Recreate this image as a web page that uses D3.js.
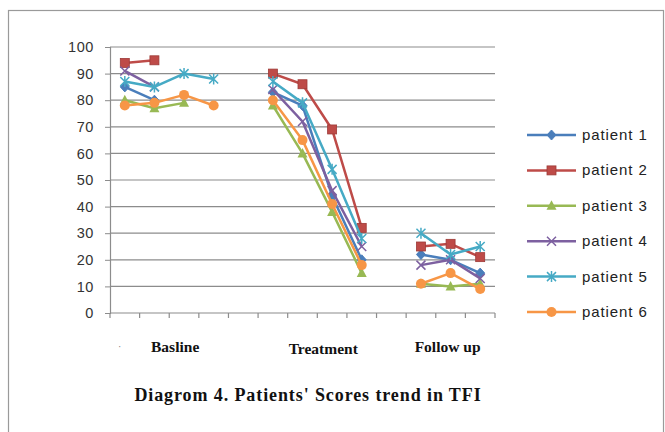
<!DOCTYPE html>
<html><head><meta charset="utf-8">
<script src="https://cdn.jsdelivr.net/npm/d3@7"></script>
<style>body{margin:0;background:#fff}svg{display:block}</style>
</head><body>
<svg id="c" width="665" height="432"></svg>
<script>
const categories = ["b1","b2","b3","b4","gap1","t1","t2","t3","t4","gap2","f1","f2","f3"];
const groupLabels = ["Basline","Treatment","Follow up"];
const groupPos = [1.7, 6.7, 10.9];
const seriesNames = ["patient 1","patient 2","patient 3","patient 4","patient 5","patient 6"];
const patient1 = [85,80,null,null,null,83,78,44,20,null,22,20,15];
const patient2 = [94,95,null,null,null,90,86,69,32,null,25,26,21];
const patient3 = [80,77,79,null,null,78,60,38,15,null,11,10,11];
const patient4 = [91,85,null,null,null,84,72,46,25,null,18,20,13];
const patient5 = [87,85,90,88,null,87,79,54,28,null,30,22,25];
const patient6 = [78,79,82,78,null,80,65,41,18,null,11,15,9];
const yTicks = [0,10,20,30,40,50,60,70,80,90,100];
const title = "Diagrom 4. Patients' Scores trend in TFI";

(function(){
const series = [patient1,patient2,patient3,patient4,patient5,patient6];
const colors = ["#4A7EBB","#BE4B48","#98B954","#7D60A0","#46AAC5","#F79646"];
const shapes = ["diamond","square","triangle","x","star","circle"];

const svg = d3.select("#c");
svg.append("rect").attr("x",8.5).attr("y",10.5).attr("width",655).attr("height",440)
  .attr("fill","#fff").attr("stroke","#9a9a9a").attr("stroke-width",1.2);

const pL=110, pR=495, pT=47, pB=313;
const x = d3.scaleBand().domain(categories).range([pL,pR]).paddingInner(0).paddingOuter(0);
const xi = d3.scaleLinear().domain([-0.5, categories.length-0.5]).range([pL,pR]);
const y = d3.scaleLinear().domain([0,100]).range([pB,pT]);
const cx = i => x(categories[i]) + x.bandwidth()/2;

svg.append("g").selectAll("line").data(yTicks.filter(t=>t>0)).join("line")
  .attr("x1",pL).attr("x2",pR).attr("y1",d=>y(d)).attr("y2",d=>y(d))
  .attr("stroke","#8c8c8c").attr("stroke-width",1.2);

const ya = svg.append("g").attr("transform",`translate(${pL},0)`)
  .call(d3.axisLeft(y).tickValues(yTicks).tickSize(5).tickPadding(11));
ya.select(".domain").attr("stroke","#8c8c8c").attr("stroke-width",1.2);
ya.selectAll(".tick line").attr("stroke","#8c8c8c");
ya.selectAll("text").attr("font-family","Liberation Sans, Arial, sans-serif").attr("font-size",14.5)
  .attr("letter-spacing",0.6).attr("fill","#333");

const xa = svg.append("g").attr("transform",`translate(0,${pB})`);
xa.append("line").attr("x1",pL).attr("x2",pR).attr("stroke","#8c8c8c").attr("stroke-width",1.2);
xa.selectAll("line.t").data(d3.range(categories.length+1)).join("line").attr("class","t")
  .attr("x1",d=>xi(d-0.5)).attr("x2",d=>xi(d-0.5)).attr("y1",0).attr("y2",5)
  .attr("stroke","#8c8c8c").attr("stroke-width",1.2);

svg.append("g").selectAll("text").data(groupLabels).join("text")
  .attr("x",(d,i)=>xi(groupPos[i])).attr("y",(d,i)=>i===1?354:352)
  .attr("text-anchor","middle").attr("font-family","Liberation Serif, Times New Roman, serif")
  .attr("font-weight","bold").attr("font-size",15.5).attr("fill","#111").text(d=>d);
svg.append("text").attr("x",xi(-0.17)).attr("y",350).attr("text-anchor","middle")
  .attr("font-size",10).attr("fill","#777").text("·");

svg.append("text").attr("x",308).attr("y",401).attr("text-anchor","middle")
  .attr("font-family","Liberation Serif, Times New Roman, serif").attr("font-weight","bold")
  .attr("font-size",18).attr("letter-spacing",0.9).attr("fill","#111").text(title);

function marker(g, shape, color, px, py){
  const s = 4.5;
  if(shape==="diamond"){
    g.append("path").attr("d",`M${px},${py-s-0.5}L${px+s},${py}L${px},${py+s+0.5}L${px-s},${py}Z`).attr("fill",color).attr("stroke",color);
  } else if(shape==="square"){
    g.append("rect").attr("x",px-4.5).attr("y",py-4.5).attr("width",9).attr("height",9).attr("fill",color).attr("stroke","#9d3a37").attr("stroke-width",0.8);
  } else if(shape==="triangle"){
    g.append("path").attr("d",`M${px},${py-5.5}L${px+5},${py+4}L${px-5},${py+4}Z`).attr("fill",color);
  } else if(shape==="x"){
    g.append("path").attr("d",`M${px-4.5},${py-4.5}L${px+4.5},${py+4.5}M${px-4.5},${py+4.5}L${px+4.5},${py-4.5}`).attr("stroke",color).attr("stroke-width",1.5);
  } else if(shape==="star"){
    g.append("path").attr("d",`M${px-4.5},${py-4.5}L${px+4.5},${py+4.5}M${px-4.5},${py+4.5}L${px+4.5},${py-4.5}M${px},${py-5.5}L${px},${py+5.5}`).attr("stroke",color).attr("stroke-width",1.5);
  } else {
    g.append("circle").attr("cx",px).attr("cy",py).attr("r",5).attr("fill",color);
  }
}

const line = d3.line().defined(d=>d!=null).x((d,i)=>cx(i)).y(d=>y(d));
series.forEach((vals,k)=>{
  const g = svg.append("g");
  g.append("path").attr("d",line(vals)).attr("fill","none").attr("stroke",colors[k])
    .attr("stroke-width",2.5).attr("stroke-linejoin","round");
  vals.forEach((v,i)=>{ if(v!=null) marker(g, shapes[k], colors[k], cx(i), y(v)); });
});

const leg = svg.append("g");
seriesNames.forEach((n,k)=>{
  const ly = 135 + k*35.4;
  leg.append("line").attr("x1",527).attr("x2",576).attr("y1",ly).attr("y2",ly)
    .attr("stroke",colors[k]).attr("stroke-width",2.5);
  marker(leg, shapes[k], colors[k], 551.5, ly);
  leg.append("text").attr("x",582).attr("y",ly+5).attr("font-family","Liberation Sans, Arial, sans-serif")
    .attr("font-size",15).attr("letter-spacing",0.9).attr("fill","#222").text(n);
});
})();
</script>
</body></html>
